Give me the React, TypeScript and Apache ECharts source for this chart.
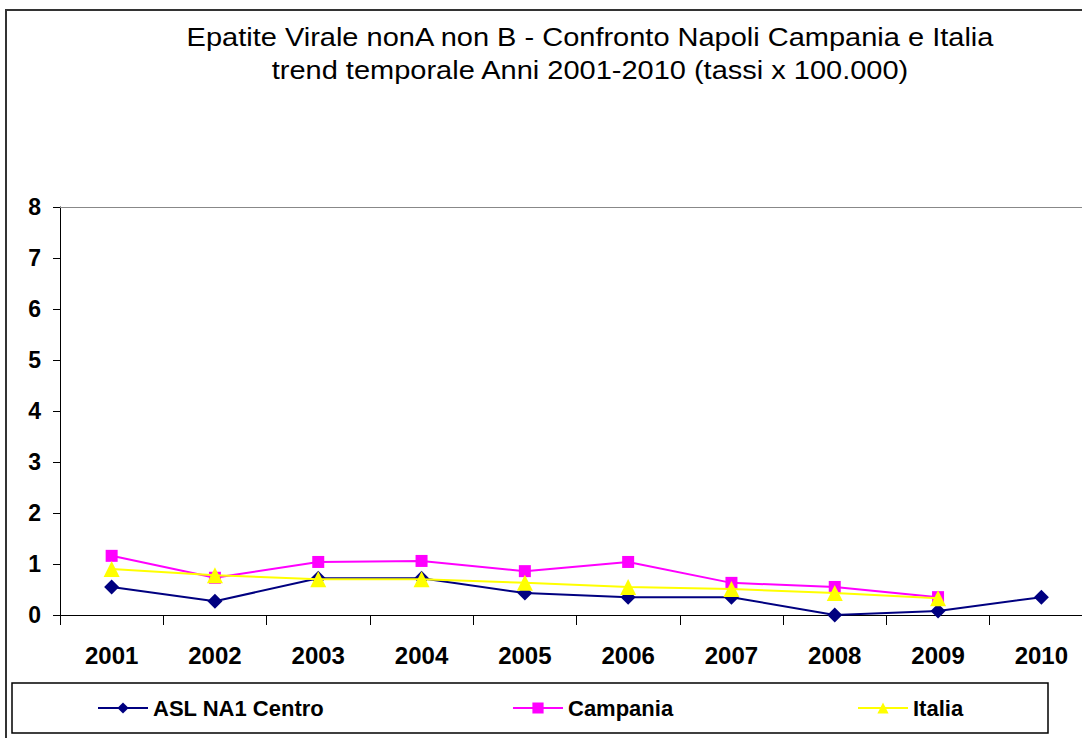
import React, { useEffect, useRef } from "react";
import * as echarts from "echarts";

const years = ["2001", "2002", "2003", "2004", "2005", "2006", "2007", "2008", "2009", "2010"];
const aslNa1 = [0.55, 0.27, 0.72, 0.72, 0.43, 0.35, 0.35, 0.0, 0.08, 0.35];
const campania = [1.16, 0.73, 1.04, 1.06, 0.86, 1.04, 0.63, 0.55, 0.35, null];
const italia = [0.9, 0.78, 0.7, 0.7, 0.63, 0.55, 0.51, 0.43, 0.33, null];
const yTicks = [0, 1, 2, 3, 4, 5, 6, 7, 8];
const seriesNames = ["ASL NA1 Centro", "Campania", "Italia"];

const titleLine1 = "Epatite Virale nonA non B - Confronto Napoli Campania e Italia";
const titleLine2 = "trend temporale Anni 2001-2010 (tassi x 100.000)";

export default function App() {
  const ref = useRef<HTMLDivElement>(null);
  useEffect(() => {
    document.body.style.margin = "0";
    const chart = echarts.init(ref.current!, undefined, { renderer: "svg" });
    const font = "'Liberation Sans', Arial, sans-serif";
    const legendText = { fontFamily: font, fontSize: 22, fontWeight: "bold", color: "#000" };
    const legendLefts = [97, 512, 857];
    chart.setOption({
      animation: false,
      backgroundColor: "#ffffff",
      graphic: [
        {
          type: "rect",
          shape: { x: 6, y: 10, width: 1100, height: 740 },
          style: { fill: "none", stroke: "#333", lineWidth: 2 },
          z: 0,
          silent: true,
        },
        {
          type: "rect",
          shape: { x: 12, y: 683, width: 1036, height: 50 },
          style: { fill: "none", stroke: "#000", lineWidth: 1.5 },
          z: 0,
          silent: true,
        },
        {
          type: "text",
          x: 590,
          y: 37,
          scaleX: 1.16,
          style: {
            text: titleLine1,
            fontFamily: font,
            fontSize: 25,
            fill: "#000",
            align: "center",
            verticalAlign: "middle",
          },
          silent: true,
        },
        {
          type: "text",
          x: 590,
          y: 70,
          scaleX: 1.16,
          style: {
            text: titleLine2,
            fontFamily: font,
            fontSize: 25,
            fill: "#000",
            align: "center",
            verticalAlign: "middle",
          },
          silent: true,
        },
      ],
      legend: seriesNames.map((n, i) => ({
        left: legendLefts[i],
        top: 697,
        itemWidth: 50,
        itemHeight: 14,
        padding: 0,
        textStyle: legendText,
        data: [n],
      })),
      grid: { left: 60, top: 207, width: 1033, bottom: 123, containLabel: false, outerBoundsMode: "none" },
      xAxis: [
        {
          type: "category",
          data: years,
          boundaryGap: true,
          axisLine: { lineStyle: { color: "#000", width: 1 } },
          axisTick: { show: true, length: 10, alignWithLabel: false, lineStyle: { color: "#000" } },
          axisLabel: {
            margin: 28,
            fontFamily: font,
            fontSize: 24,
            fontWeight: "bold",
            color: "#000",
            interval: 0,
          },
          splitLine: { show: false },
        },
        {
          type: "category",
          data: years,
          position: "top",
          axisLine: { lineStyle: { color: "#888", width: 1 } },
          axisTick: { show: false },
          axisLabel: { show: false },
          splitLine: { show: false },
        },
      ],
      yAxis: {
        type: "value",
        min: 0,
        max: 8,
        interval: 1,
        axisLine: { show: true, lineStyle: { color: "#000", width: 1 } },
        axisTick: { show: true, length: 7, lineStyle: { color: "#000" } },
        axisLabel: {
          margin: 19,
          fontFamily: font,
          fontSize: 23,
          fontWeight: "bold",
          color: "#000",
          formatter: (v: number) => (yTicks.includes(v) ? String(v) : ""),
        },
        splitLine: { show: false },
      },
      series: [
        {
          name: seriesNames[0],
          type: "line",
          data: aslNa1,
          symbol: "diamond",
          symbolSize: 15,
          itemStyle: { color: "#000080" },
          lineStyle: { color: "#000080", width: 2 },
          z: 3,
        },
        {
          name: seriesNames[1],
          type: "line",
          data: campania,
          symbol: "rect",
          symbolSize: 12,
          itemStyle: { color: "#FF00FF" },
          lineStyle: { color: "#FF00FF", width: 2 },
          z: 2,
        },
        {
          name: seriesNames[2],
          type: "line",
          data: italia,
          symbol: "triangle",
          symbolSize: 16,
          itemStyle: { color: "#FFFF00" },
          lineStyle: { color: "#FFFF00", width: 2 },
          z: 4,
        },
      ],
    });
    return () => chart.dispose();
  }, []);
  return <div ref={ref} style={{ width: 1082, height: 738 }} />;
}
